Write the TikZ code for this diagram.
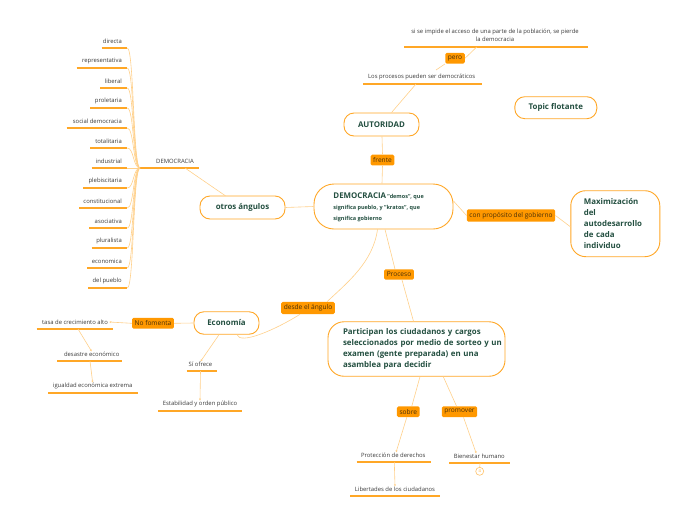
\documentclass[tikz,border=0pt]{standalone}
\usepackage{fontspec}
\setmainfont{Open Sans}
\usetikzlibrary{arrows.meta}
\definecolor{org}{HTML}{FF9800}
\definecolor{orgline}{HTML}{FFA726}
\definecolor{connc}{HTML}{FFD08A}
\definecolor{dgreen}{HTML}{234F40}
\definecolor{leaftxt}{HTML}{3A3A3A}
\definecolor{labtxt}{HTML}{4A3008}
\tikzset{
  topic/.style={draw=orgline, line width=0.9pt, rounded corners=10pt, fill=white, text=dgreen,
    font=\fontsize{7.9}{11}\selectfont\bfseries, inner sep=0pt},
  lab/.style={fill=org, rounded corners=1.5pt, text=labtxt, font=\fontsize{6.6}{7}\selectfont,
    inner xsep=2.6pt, inner ysep=2.8pt},
  leaf/.style={font=\fontsize{5.9}{7}\selectfont, text=leaftxt, inner sep=0pt},
  uline/.style={color=orgline, line width=1.5pt},
  conn/.style={color=connc, line width=0.6pt},
  arr/.style={conn, -{Latex[length=2.2pt,width=2.2pt]}}
}
\newcommand\uleaf[7]{%
  \node[leaf,anchor=#4] (#1) at (#2,#3) {#7};
  \coordinate (#1-l) at (#5,#3+7);
  \coordinate (#1-r) at (#6,#3+7);
  \draw[uline] (#1-l) -- (#1-r);}
\newcommand\smalltxt{\fontsize{5.5}{11.2}\selectfont}
\begin{document}
\begin{tikzpicture}[x=1pt,y=-1pt]
\useasboundingbox (0,0) rectangle (697,520);

% ---- left DEMOCRACIA list
\uleaf{dem}{175}{161}{center}{140}{199}{DEMOCRACIA}
\coordinate (J) at (140,168);
\foreach \n/\yy/\xl/\t in {
  l1/41/101.7/directa,
  l2/61/76.7/representativa,
  l3/81/100/liberal,
  l4/101/90/proletaria,
  l5/121/66.7/social democracia,
  l6/141/90/totalitaria,
  l7/161/91.7/industrial,
  l8/181/83/plebiscitaria,
  l9/201/79/constitucional,
  l10/221/89/asociativa,
  l11/241/91.7/pluralista,
  l12/261/87/economica,
  l13/281/88/del pueblo}{
  \uleaf{\n}{122}{\yy}{east}{\xl}{127.3}{\t}
  \draw[conn] (J) .. controls (133,168) and (134,\yy+7) .. (\n-r);
}

% ---- topics
\node[topic, minimum width=85pt, minimum height=23pt] (otros) at (242.5,207.5) {otros ángulos};
\node[topic, rounded corners=20pt, minimum width=139pt, minimum height=45pt] (main) at (383.5,206.5) {};
\node[topic, draw=none, fill=none, align=left, anchor=west] (maint) at (333,207.3)
  {DEMOCRACIA\hspace{1.2pt}{\smalltxt "demos", que}\\[-0.3pt]
   {\smalltxt significa pueblo, y "kratos", que}\\[-0.3pt]
   {\smalltxt significa gobierno}};
\node[topic, minimum width=75pt, minimum height=23pt] (auto) at (381.5,124.5) {AUTORIDAD};
\node[topic, minimum width=82pt, minimum height=22pt] (flot) at (555.8,107.7) {Topic flotante};
\node[topic, rounded corners=15pt, minimum width=89pt, minimum height=66pt, text width=63pt,
      inner xsep=13pt, align=left] (maxi) at (615.3,223.7)
  {Maximización\\del\\autodesarrollo\\de cada\\individuo};
\node[topic, minimum width=65pt, minimum height=22.5pt] (eco) at (226.5,323) {Economía};
\node[topic, rounded corners=16pt, minimum width=177pt, minimum height=54.5pt, text width=147pt,
      inner xsep=15pt, align=left] (part) at (416.5,349)
  {\mbox{Participan los ciudadanos y cargos}\\\mbox{seleccionados por medio de sorteo y un}\\\mbox{examen (gente preparada) en una}\\\mbox{asamblea para decidir}};

% ---- labels
\node[lab] (frente) at (382.5,160) {frente};
\node[lab] (pero) at (455,58.3) {pero};
\node[lab] (prop) at (511,215.5) {con propósito del gobierno};
\node[lab] (proc) at (399,274.5) {Proceso};
\node[lab] (desde) at (308,308) {desde el ángulo};
\node[lab] (nofo) at (153,323.3) {No fomenta};
\node[lab] (sobre) at (408.3,411.7) {sobre};
\node[lab] (prom) at (459.5,411.7) {promover};

% ---- leaves
\uleaf{proc1}{421.7}{77}{center}{363}{481.7}{Los procesos pueden ser democráticos}
\node[leaf, align=center, font=\fontsize{5.9}{7.6}\selectfont] (sise) at (495,35.5)
  {si se impide el acceso de una parte de la población, se pierde\\la democracia};
\coordinate (sise-l) at (404,47); \coordinate (sise-r) at (587.7,47);
\draw[uline] (sise-l) -- (sise-r);
\uleaf{tasa}{75}{322}{center}{36.7}{112.7}{tasa de crecimiento alto}
\uleaf{desa}{91.7}{354}{center}{57}{122}{desastre económico}
\uleaf{igua}{92.7}{386}{center}{48}{137.7}{igualdad económica extrema}
\uleaf{sio}{200.5}{364}{center}{186.7}{216.7}{Sí ofrece}
\uleaf{esta}{200}{404}{center}{158}{241.7}{Estabilidad y orden público}
\uleaf{prot}{393.3}{455}{center}{356.7}{430.7}{Protección de derechos}
\uleaf{libe}{395}{489}{center}{350}{440}{Libertades de los ciudadanos}
\uleaf{bien}{479.3}{456}{center}{449.3}{510}{Bienestar humano}
\node[circle, draw=orgline!70, line width=0.6pt, inner sep=0pt, minimum size=8pt,
      font=\fontsize{4}{5}\selectfont, text=orgline] (cnt) at (479.7,471.3) {4};
\draw[conn] ([xshift=0.4pt]bien-l -| cnt) -- (cnt.north);

% ---- connectors
\draw[conn] ([xshift=-14pt]dem-r) -- ([xshift=-17pt,yshift=-0.3pt]otros.north);
\draw[conn] (otros.east) -- (main.west);
\draw[conn] ([xshift=-1.5pt]main.north) -- (frente.south);
\draw[conn] (frente.north) -- ([xshift=0.5pt]auto.south);
\draw[conn] ([xshift=10pt]auto.north) -- ([xshift=-5.7pt]proc1-r -| proc1);
\draw[conn] (436,70) coordinate (pc) -- (pero.south west);
\draw[conn] (pero.east) -- ([xshift=-111pt]sise-r);
\draw[conn] ([yshift=5.5pt]main.east) -- (prop.west);
\draw[conn] (prop.east) -- ([yshift=-3pt]maxi.west);
\draw[conn] ([xshift=1.5pt]main.south) -- ([xshift=-4pt]proc.north);
\draw[conn] ([xshift=3pt]proc.south) -- ([xshift=-3pt]part.north);
\draw[conn] ([xshift=-6pt]main.south) .. controls (373,262) and (348,282) .. ([xshift=-8pt]desde.north east);
\draw[conn] ([xshift=-8pt]desde.south) .. controls (275,330) and (240,345) .. ([xshift=10.5pt]eco.south);
\draw[conn] (eco.west) -- (nofo.east);
\draw[arr] (nofo.west) -- ([xshift=1pt]tasa.east);
\draw[arr] ([xshift=41.3pt]tasa-l) -- (desa.north);
\draw[arr] ([xshift=33pt]desa-l) -- (igua.north);
\draw[arr] ([xshift=-7.5pt]eco.south) -- (sio.north);
\draw[arr] (sio-r -| sio) -- (esta.north);
\draw[conn] ([xshift=3.5pt]part.south) -- ([xshift=3.5pt]sobre.north);
\draw[arr] ([xshift=-1.5pt]sobre.south) -- ([xshift=2.7pt]prot.north);
\draw[conn] ([xshift=26.8pt]part.south) -- ([xshift=-3pt]prom.north);
\draw[arr] ([xshift=4pt]prom.south) -- ([xshift=-3pt]bien.north);
\draw[arr] ([xshift=37.6pt]prot-l) -- (libe.north);
\end{tikzpicture}
\end{document}
